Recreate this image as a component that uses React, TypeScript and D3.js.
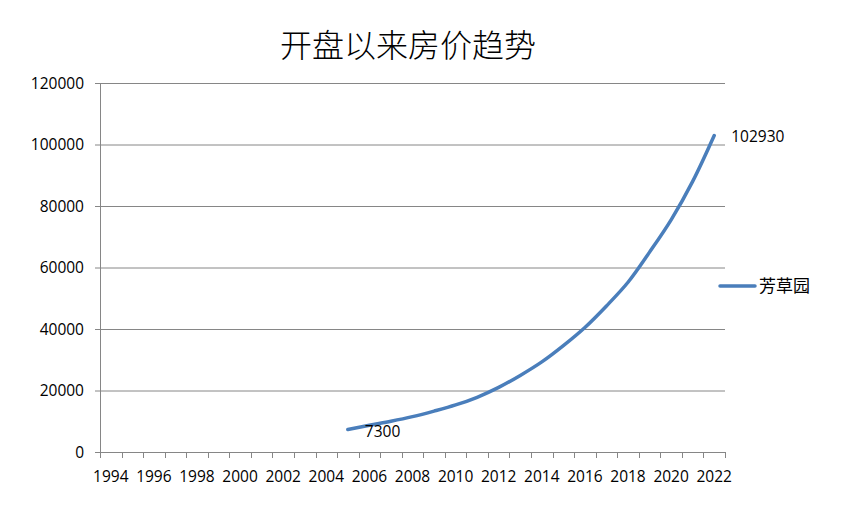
import { useEffect, useRef } from 'react';
import * as d3 from 'd3';

// categories on the x axis
const years = d3.range(1994, 2023).map(String);
const yearLabels = years.filter((_, i) => i % 2 === 0);

// series: 芳草园, starts in 2005
const seriesYears = d3.range(2005, 2023).map(String);
const seriesValues = [
  7300, 8700, 10000, 11500, 13300, 15300, 17800, 21000, 24900,
  29300, 34600, 40500, 47500, 55200, 65000, 75500, 88000, 102930,
];
const seriesName = '芳草园';

const yTicks = [0, 20000, 40000, 60000, 80000, 100000, 120000];

const title = '开盘以来房价趋势';

export default function App() {
  const svgRef = useRef<SVGSVGElement>(null);

  useEffect(() => {
    if (!svgRef.current) return;
    const svg = d3.select(svgRef.current);
    svg.selectAll('*').remove();

    const width = 857;
    const height = 506;
    const left = 100, right = 725, top = 83, bottom = 452;
    const lineColor = '#4A7EBB';
    const gridColor = '#868686';
    const numFont = '"Open Sans", "Liberation Sans", sans-serif';
    const numSize = 15.5;

    svg.attr('width', width).attr('height', height).attr('viewBox', `0 0 ${width} ${height}`);

    svg.append('rect').attr('width', width).attr('height', height).attr('fill', '#fff');

    const x = d3.scaleBand<string>().domain(years).range([left, right]).padding(0);
    const y = d3.scaleLinear().domain([0, 120000]).range([bottom, top]);

    // title
    svg.append('text')
      .attr('x', 408)
      .attr('y', 57)
      .attr('text-anchor', 'middle')
      .attr('font-family', '"Noto Sans CJK SC", sans-serif')
      .attr('font-size', 32)
      .attr('font-weight', 300)
      .attr('fill', '#000')
      .text(title);

    // gridlines + y ticks
    svg.append('g')
      .selectAll('line')
      .data(yTicks.filter(d => d > 0))
      .join('line')
      .attr('x1', left - 5)
      .attr('x2', right)
      .attr('y1', d => y(d) + 0.5)
      .attr('y2', d => y(d) + 0.5)
      .attr('stroke', gridColor)
      .attr('stroke-width', 1);

    svg.append('g')
      .selectAll('text')
      .data(yTicks)
      .join('text')
      .attr('x', 84)
      .attr('y', d => y(d) + 5.5)
      .attr('text-anchor', 'end')
      .attr('font-family', numFont)
      .attr('font-size', numSize)
      .attr('fill', '#000')
      .text(d => String(d));

    // axes
    svg.append('line')
      .attr('x1', left + 0.5).attr('x2', left + 0.5)
      .attr('y1', top).attr('y2', bottom)
      .attr('stroke', gridColor);
    svg.append('line')
      .attr('x1', left - 5).attr('x2', right)
      .attr('y1', bottom + 0.5).attr('y2', bottom + 0.5)
      .attr('stroke', gridColor);

    // x ticks at category boundaries
    const boundaries = years.map(d => x(d) as number).concat([right]);
    svg.append('g')
      .selectAll('line')
      .data(boundaries)
      .join('line')
      .attr('x1', d => Math.round(d) + 0.5)
      .attr('x2', d => Math.round(d) + 0.5)
      .attr('y1', bottom)
      .attr('y2', bottom + 6)
      .attr('stroke', gridColor);

    svg.append('g')
      .selectAll('text')
      .data(yearLabels)
      .join('text')
      .attr('x', d => (x(d) as number) + x.bandwidth() / 2)
      .attr('y', 482)
      .attr('text-anchor', 'middle')
      .attr('font-family', numFont)
      .attr('font-size', numSize)
      .attr('fill', '#000')
      .text(d => d);

    // series line
    const points: [number, number][] = seriesYears.map((yr, i) => [
      (x(yr) as number) + x.bandwidth() / 2,
      y(seriesValues[i]),
    ]);
    const line = d3.line<[number, number]>().curve(d3.curveCatmullRom.alpha(0.5));
    svg.append('path')
      .attr('d', line(points))
      .attr('fill', 'none')
      .attr('stroke', lineColor)
      .attr('stroke-width', 3.5)
      .attr('stroke-linecap', 'round')
      .attr('stroke-linejoin', 'round');

    // data labels at first and last point
    const first = points[0];
    const last = points[points.length - 1];
    [
      { p: first, v: seriesValues[0] },
      { p: last, v: seriesValues[seriesValues.length - 1] },
    ].forEach(({ p, v }) => {
      svg.append('text')
        .attr('x', p[0] + 17)
        .attr('y', p[1] + 7)
        .attr('font-family', numFont)
        .attr('font-size', numSize)
        .attr('fill', '#000')
        .text(String(v));
    });

    // legend
    svg.append('line')
      .attr('x1', 720).attr('x2', 755)
      .attr('y1', 286).attr('y2', 286)
      .attr('stroke', lineColor)
      .attr('stroke-width', 3.5)
      .attr('stroke-linecap', 'round');
    svg.append('text')
      .attr('x', 759)
      .attr('y', 292)
      .attr('font-family', '"Noto Sans CJK SC", sans-serif')
      .attr('font-size', 17)
      .attr('fill', '#000')
      .text(seriesName);
  }, []);

  return (
    <div style={{ position: 'absolute', left: 0, top: 0 }}>
      <svg ref={svgRef} style={{ display: 'block' }}></svg>
    </div>
  );
}
